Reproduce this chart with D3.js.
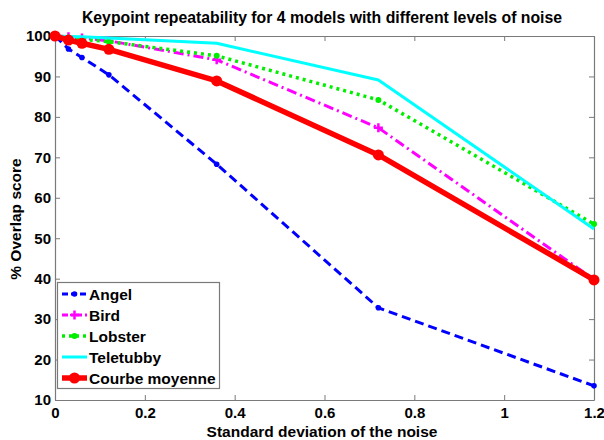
<!DOCTYPE html>
<html><head><meta charset="utf-8">
<script src="https://cdn.jsdelivr.net/npm/d3@7"></script>
<style>body{margin:0;background:#fff}svg{display:block}text{font-family:"Liberation Sans",Arial,sans-serif;font-weight:bold}</style>
</head><body>
<svg id="c" width="604" height="440"></svg>
<script>
const noise = [0, 0.03, 0.06, 0.12, 0.36, 0.72, 1.2];
const angel = [100, 96.8, 94.7, 90.4, 68.3, 32.8, 13.5];
const bird = [100, 99.8, 99.5, 98.8, 94.1, 77.3, 39.8];
const lobster = [100, 99.6, 99.2, 98.6, 95.1, 84.2, 53.5];
const teletubby = [100, 99.9, 99.8, 99.5, 98.2, 89.1, 52.3];
const moyenne = [100, 99.0, 98.2, 96.7, 88.9, 70.6, 39.7];
const seriesNames = ["Angel", "Bird", "Lobster", "Teletubby", "Courbe moyenne"];
const xTicks = [0, 0.2, 0.4, 0.6, 0.8, 1, 1.2];
const yTicks = [10, 20, 30, 40, 50, 60, 70, 80, 90, 100];
const title = "Keypoint repeatability for 4 models with different levels of noise";
const xLabel = "Standard deviation of the noise";
const yLabel = "% Overlap score";

const svg = d3.select("#c");
const L = 55, R = 594, T = 36, B = 400;
const x = d3.scaleLinear().domain([0, 1.2]).range([L, R]);
const y = d3.scaleLinear().domain([10, 100]).range([B, T]);
const axisCol = "#7a7a7a";

const g = svg.append("g");
g.append("g").attr("transform", `translate(0,${B})`)
  .call(d3.axisBottom(x).tickValues(xTicks).tickSizeInner(-5).tickSizeOuter(0).tickPadding(7).tickFormat(d3.format("~g")))
  .call(a => { a.select(".domain").attr("stroke", axisCol); a.selectAll("line").attr("stroke", axisCol);
    a.selectAll("text").attr("fill", "#000").style("font-size", "15px"); });
g.append("g").attr("transform", `translate(0,${T})`)
  .call(d3.axisTop(x).tickValues(xTicks).tickSizeInner(-5).tickSizeOuter(0).tickFormat(""))
  .call(a => { a.select(".domain").attr("stroke", axisCol); a.selectAll("line").attr("stroke", axisCol); });
g.append("g").attr("transform", `translate(${L},0)`)
  .call(d3.axisLeft(y).tickValues(yTicks).tickSizeInner(-5).tickSizeOuter(0).tickPadding(4))
  .call(a => { a.select(".domain").attr("stroke", axisCol); a.selectAll("line").attr("stroke", axisCol);
    a.selectAll("text").attr("fill", "#000").style("font-size", "15px"); });
g.append("g").attr("transform", `translate(${R},0)`)
  .call(d3.axisRight(y).tickValues(yTicks).tickSizeInner(-5).tickSizeOuter(0).tickFormat(""))
  .call(a => { a.select(".domain").attr("stroke", axisCol); a.selectAll("line").attr("stroke", axisCol); });
g.selectAll(".domain").attr("stroke-width", 1.2);

const styles = [
  {vals: angel, color: "#0000ff", w: 3, dash: "9,5", marker: "dot", r: 2.8},
  {vals: bird, color: "#ff00ff", w: 3, dash: "10,4,2,4", marker: "plus", r: 4.5},
  {vals: lobster, color: "#00ee00", w: 3.5, dash: "3,4", marker: "dot", r: 3},
  {vals: teletubby, color: "#00ffff", w: 3, dash: null, marker: null},
  {vals: moyenne, color: "#ff0000", w: 5.5, dash: null, marker: "dot", r: 5.5}
];

const line = d3.line().x((d, i) => x(noise[i])).y(d => y(d));
function drawMarker(sel, s, cx, cy) {
  if (s.marker === "dot") sel.append("circle").attr("cx", cx).attr("cy", cy).attr("r", s.r).attr("fill", s.color);
  else if (s.marker === "plus") sel.append("path")
    .attr("d", `M${cx - s.r},${cy}H${cx + s.r}M${cx},${cy - s.r}V${cy + s.r}`)
    .attr("stroke", s.color).attr("stroke-width", 2.5);
}
styles.forEach(s => {
  const gg = svg.append("g");
  gg.append("path").datum(s.vals).attr("d", line).attr("fill", "none")
    .attr("stroke", s.color).attr("stroke-width", s.w).attr("stroke-dasharray", s.dash)
    .attr("stroke-linejoin", "round");
  s.vals.forEach((v, i) => drawMarker(gg, s, x(noise[i]), y(v)));
});

const lg = svg.append("g");
lg.append("rect").attr("x", 57.5).attr("y", 282.5).attr("width", 162).attr("height", 106)
  .attr("fill", "#fff").attr("stroke", axisCol).attr("stroke-width", 1.2);
seriesNames.forEach((n, i) => {
  const s = styles[i], cy = 294 + i * 21;
  lg.append("line").attr("x1", 62).attr("x2", 87).attr("y1", cy).attr("y2", cy)
    .attr("stroke", s.color).attr("stroke-width", s.w).attr("stroke-dasharray", s.dash ? (i === 2 ? "3,4" : (i === 1 ? "6,3,2,3" : "6,3")) : null);
  drawMarker(lg, s, 74.5, cy);
  lg.append("text").attr("x", 89).attr("y", cy).attr("dy", "0.36em").style("font-size", "15.5px").text(n);
});

svg.append("text").attr("x", 322).attr("y", 23).attr("text-anchor", "middle").style("font-size", "15.8px").text(title);
svg.append("text").attr("x", 322).attr("y", 437).attr("text-anchor", "middle").style("font-size", "15.5px").text(xLabel);
svg.append("text").attr("transform", "translate(21,219) rotate(-90)").attr("text-anchor", "middle").style("font-size", "15.5px").text(yLabel);
</script>
</body></html>
